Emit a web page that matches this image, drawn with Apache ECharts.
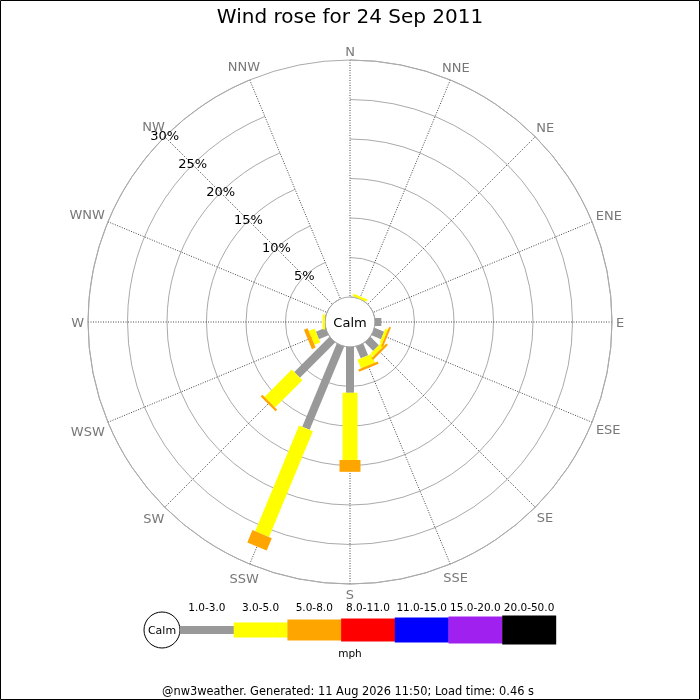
<!DOCTYPE html>
<html>
<head>
<meta charset="utf-8">
<script src="https://cdn.jsdelivr.net/npm/echarts@6/dist/echarts.min.js"></script>
<style>html,body{margin:0;padding:0;background:#fff}#c{width:700px;height:700px}</style>
</head>
<body>
<div id="c"></div>
<script>
// ---- data ----
const titleText = 'Wind rose for 24 Sep 2011';
const footerText = '@nw3weather. Generated: 11 Aug 2026 11:50; Load time: 0.46 s';
const directions = ['N','NNE','NE','ENE','E','ESE','SE','SSE','S','SSW','SW','WSW','W','WNW','NW','NNW'];
const speedBands = ['1.0-3.0','3.0-5.0','5.0-8.0','8.0-11.0','11.0-15.0','15.0-20.0','20.0-50.0'];
const speedUnit = 'mph';
const radiusTicks = [0, 5, 10, 15, 20, 25, 30];
// percent of time per direction for each speed band (N ... NNW)
const band1to3   = [0, 0,   0, 0, 0.8, 1.3,  1.5, 1.6, 5.8, 11.4, 6.3, 1.3, 0,   0, 0, 0];
const band3to5   = [0, 0.3, 0, 0, 0,   0.35, 0.5, 1.2, 8.5, 14.5, 4.9, 0.8, 0.3, 0, 0, 0];
const band5to8   = [0, 0,   0, 0, 0,   0.25, 0.3, 0.3, 1.5, 1.7,  0.3, 0.5, 0,   0, 0, 0];
const band8to11  = [0, 0,   0, 0, 0,   0,    0,   0,   0,   0,    0,   0,   0,   0, 0, 0];
const band11to15 = [0, 0,   0, 0, 0,   0,    0,   0,   0,   0,    0,   0,   0,   0, 0, 0];
const band15to20 = [0, 0,   0, 0, 0,   0,    0,   0,   0,   0,    0,   0,   0,   0, 0, 0];
const band20to50 = [0, 0,   0, 0, 0,   0,    0,   0,   0,   0,    0,   0,   0,   0, 0, 0];
const bandValues = [band1to3, band3to5, band5to8, band8to11, band11to15, band15to20, band20to50];

// ---- styles ----
const bandColors = ['#999999', '#ffff00', '#ffa500', '#ff0000', '#0000ff', '#a020f0', '#000000'];
const bandWidths = [8, 15, 21, 23, 25, 27, 29];
const FONT = '"DejaVu Sans", Verdana, sans-serif';
const CX = 350, CY = 322, R_IN = 25, R_OUT = 262;

const chart = echarts.init(document.getElementById('c'), null, {renderer: 'canvas'});

function barSeries(b) {
  const data = [];
  directions.forEach((d, i) => {
    let start = 0;
    for (let k = 0; k < b; k++) start += bandValues[k][i];
    const v = bandValues[b][i];
    if (v > 0) data.push([start + v, i, start]);
  });
  return {
    type: 'custom',
    coordinateSystem: 'polar',
    polarIndex: 0,
    name: speedBands[b],
    z: 3 + b,
    silent: true,
    data: data,
    renderItem: function (params, api) {
      const rEnd = api.value(0), idx = api.value(1), rStart = api.value(2);
      const p0 = api.coord([rStart, idx]);
      const p1 = api.coord([rEnd, idx]);
      const pc = api.coord([0, idx]);
      const pf = api.coord([radiusTicks[radiusTicks.length - 1], idx]);
      let ux = pf[0] - pc[0], uy = pf[1] - pc[1];
      const L = Math.hypot(ux, uy) || 1;
      ux /= L; uy /= L;
      const hw = bandWidths[b] / 2;
      const nx = -uy * hw, ny = ux * hw;
      return {
        type: 'polygon',
        shape: {points: [[p0[0] + nx, p0[1] + ny], [p1[0] + nx, p1[1] + ny], [p1[0] - nx, p1[1] - ny], [p0[0] - nx, p0[1] - ny]]},
        style: {fill: bandColors[b]}
      };
    }
  };
}

// direction labels: centred just outside the outer ring
const measureCtx = document.createElement('canvas').getContext('2d');
measureCtx.font = '13px ' + FONT;
const rMax = radiusTicks[radiusTicks.length - 1];
const dirLabelData = directions.map((d, i) => {
  const th = i * 2 * Math.PI / directions.length;
  const ux = Math.sin(th), uy = -Math.cos(th);
  const hw = measureCtx.measureText(d).width / 2, hh = 5.5;
  const dist = 4 + hw * Math.abs(ux) + hh * Math.abs(uy);
  return {value: [rMax, i], label: {offset: [ux * dist, uy * dist + 2]}};
});

const series = bandValues.map((v, b) => barSeries(b));
series.push({
  type: 'scatter',
  coordinateSystem: 'polar',
  polarIndex: 0,
  clip: false,
  silent: true,
  symbol: 'circle',
  symbolSize: 1,
  itemStyle: {color: 'rgba(0,0,0,0)'},
  label: {
    show: true,
    position: 'inside',
    align: 'center',
    verticalAlign: 'middle',
    color: '#555',
    fontSize: 13,
    fontFamily: FONT,
    formatter: p => directions[p.dataIndex]
  },
  data: dirLabelData,
  z: 10
});

// legend graphics
const legX0 = 180, segW = 53.7, legY = 630;
const graphics = [
  {type: 'rect', shape: {x: 0.5, y: 0.5, width: 699, height: 699}, style: {fill: null, stroke: '#000', lineWidth: 1}, z: 100, silent: true},
  {type: 'text', x: CX, y: CY + 1.5, style: {text: 'Calm', align: 'center', verticalAlign: 'middle', font: '13px ' + FONT, fill: '#000'}, z: 100},
  {type: 'circle', shape: {cx: 162, cy: legY, r: 18}, style: {fill: '#fff', stroke: '#000', lineWidth: 1}, z: 100},
  {type: 'text', x: 162, y: legY + 1, style: {text: 'Calm', align: 'center', verticalAlign: 'middle', font: '11px ' + FONT, fill: '#000'}, z: 101},
  {type: 'text', x: 350, y: 654, style: {text: speedUnit, align: 'center', verticalAlign: 'middle', font: '10.5px ' + FONT, fill: '#000'}, z: 100},
  {type: 'text', x: 348, y: 692, style: {text: footerText, align: 'center', verticalAlign: 'middle', font: '11.4px ' + FONT, fill: '#000'}, z: 100}
];
speedBands.forEach((name, k) => {
  const w = bandWidths[k];
  graphics.push({type: 'rect', shape: {x: legX0 + k * segW, y: legY - w / 2, width: segW + 0.3, height: w}, style: {fill: bandColors[k]}, z: 100});
  graphics.push({type: 'text', x: legX0 + k * segW + segW / 2, y: 608, style: {text: name, align: 'center', verticalAlign: 'middle', font: '10.5px ' + FONT, fill: '#000'}, z: 100});
});

const option = {
  animation: false,
  backgroundColor: '#fff',
  textStyle: {fontFamily: FONT},
  title: {
    text: titleText, left: 'center', top: 3,
    textStyle: {fontSize: 20, fontWeight: 'normal', color: '#000', fontFamily: FONT}
  },
  polar: [
    {center: [CX, CY], radius: [R_IN, R_OUT]},
    {center: [CX, CY], radius: [R_IN, R_OUT]}
  ],
  angleAxis: [
    {
      polarIndex: 0, type: 'category', data: directions, boundaryGap: false,
      startAngle: 90, clockwise: true,
      axisLine: {show: true, lineStyle: {color: '#aaa', width: 1}},
      axisTick: {show: false, interval: 0},
      axisLabel: {show: false, interval: 0},
      splitLine: {show: true, interval: 0, lineStyle: {color: '#444', width: 1, type: [1, 1.5]}}
    },
    {
      polarIndex: 1, type: 'value', min: 0, max: 360, startAngle: 135,
      axisLine: {show: false}, axisTick: {show: false}, axisLabel: {show: false}, splitLine: {show: false}
    }
  ],
  radiusAxis: [
    {
      polarIndex: 0, type: 'value', min: radiusTicks[0], max: rMax, interval: 5,
      axisLine: {show: false}, axisTick: {show: false}, axisLabel: {show: false},
      splitLine: {show: true, lineStyle: {color: '#aaa', width: 1}}
    },
    {
      polarIndex: 1, type: 'value', min: radiusTicks[0], max: rMax, interval: 5,
      axisLine: {show: false}, axisTick: {show: false}, splitLine: {show: false},
      axisLabel: {
        show: true, margin: 0, align: 'center', verticalAlign: 'middle',
        padding: [4, 0, 0, 0],
        color: '#000', fontSize: 13, fontFamily: FONT,
        formatter: v => (v === 0 ? '' : v + '%')
      },
      z: 20
    }
  ],
  series: series,
  graphic: {elements: graphics}
};
chart.setOption(option);
</script>
</body>
</html>
